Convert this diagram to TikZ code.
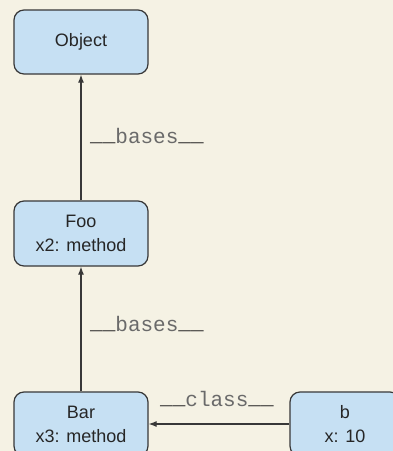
\documentclass[tikz,border=0pt]{standalone}
\usepackage{fontspec}
\setmainfont{Liberation Sans}
\setmonofont{Liberation Mono}
\usetikzlibrary{arrows.meta}
\definecolor{bg}{HTML}{F5F2E4}
\definecolor{boxfill}{HTML}{C6E0F3}
\definecolor{edge}{HTML}{383838}
\definecolor{monotext}{HTML}{6A6A6A}
\tikzset{
  cls/.style={draw=edge, line width=1.2pt, fill=boxfill, rounded corners=10pt,
    minimum width=134pt, minimum height=64pt, inner sep=0pt, align=center,
    font=\fontsize{18}{24}\selectfont, text=black!85},
  conn/.style={draw=edge, line width=1.2pt, -{Latex[length=8pt,width=6pt]}},
  lbl/.style={inner sep=0pt, anchor=base west, font=\fontsize{21}{21}\ttfamily, text=monotext},
}
\newcommand{\us}{\raisebox{2pt}{\color{black!85}\bfseries\_\_}}
\begin{document}
\begin{tikzpicture}[x=1pt,y=-1pt]
\useasboundingbox (0,0) rectangle (393,451);
\clip (0,0) rectangle (393,451);
\fill[bg] (0,0) rectangle (393,451);
\node[cls] (object) at (81,42) {Object};
\node[cls, minimum height=65pt] (foo) at (81,233.5) {Foo\\x2: method};
\node[cls] (bar) at (81,424) {Bar\\x3: method};
\node[cls, minimum width=110pt] (b) at (345,424) {b\\x: 10};
\draw[conn] (foo.north) -- (object.south);
\draw[conn] (bar.north) -- (foo.south);
\draw[conn] (b.west) -- (bar.east);
\node[lbl] (l1) at (90,143) {\us bases\us};
\node[lbl] (l2) at (90,331) {\us bases\us};
\node[lbl] (l3) at (160,406) {\us class\us};
\end{tikzpicture}
\end{document}
